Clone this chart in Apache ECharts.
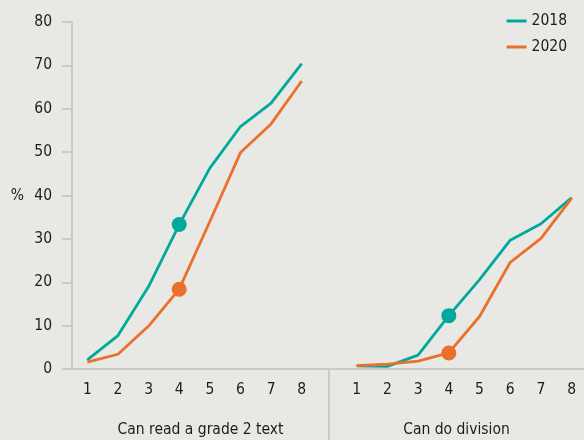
<!DOCTYPE html>
<html>
<head>
<meta charset="utf-8">
<script src="https://cdn.jsdelivr.net/npm/echarts@6/dist/echarts.min.js"></script>
<style>
html,body{margin:0;padding:0;background:#e8e9e5;}
#c{width:584px;height:440px;}
</style>
</head>
<body>
<div id="c"></div>
<script>
const grades = [1, 2, 3, 4, 5, 6, 7, 8];
const yTicks = [0, 10, 20, 30, 40, 50, 60, 70, 80];
const panelTitles = ['Can read a grade 2 text', 'Can do division'];
const seriesNames = ['2018', '2020'];
const reading2018 = [2.1, 7.7, 19.0, 33.3, 46.3, 55.9, 61.3, 70.4];
const reading2020 = [1.6, 3.4, 9.9, 18.4, 34.0, 49.9, 56.5, 66.4];
const division2018 = [0.7, 0.6, 3.2, 12.3, 20.6, 29.7, 33.5, 39.5];
const division2020 = [0.8, 1.1, 1.8, 3.7, 12.1, 24.6, 30.1, 39.4];
const highlightGrade = 4;

const FONT = '"DejaVu Sans Condensed", "Liberation Sans", sans-serif';
const FS = 15.5;
const TXT = '#1c1c1c';
const AX = '#c9cacb';
const COLORS = ['#00a99c', '#ea702b'];

function toData(vals) {
  return grades.map((g, i) => g === highlightGrade
    ? { value: [g, vals[i]], symbol: 'circle', symbolSize: 15 }
    : { value: [g, vals[i]], symbol: 'none' });
}

function mkSeries(name, vals, idx, color) {
  return {
    name: name, type: 'line', xAxisIndex: idx, yAxisIndex: idx,
    data: toData(vals), showSymbol: true, symbol: 'none',
    lineStyle: { color: color, width: 2.8 }, itemStyle: { color: color },
    animation: false, emphasis: { disabled: true }
  };
}

const xCommon = (i, min, max) => ({
  type: 'value', gridIndex: i, min: min, max: max,
  name: panelTitles[i], nameLocation: 'middle', nameGap: 53,
  nameTextStyle: { fontFamily: FONT, fontSize: FS, color: TXT },
  axisLine: { show: true, lineStyle: { color: AX, width: 2 } },
  axisTick: { show: i === 1, customValues: [min], length: 71, lineStyle: { color: AX, width: 2 } },
  axisLabel: { customValues: grades, margin: 13, fontFamily: FONT, fontSize: FS, color: TXT },
  splitLine: { show: false }
});

const option = {
  backgroundColor: '#e8e9e5',
  animation: false,
  legend: {
    data: seriesNames, orient: 'vertical', right: 12, top: 7,
    icon: 'rect', itemWidth: 20, itemHeight: 3, itemGap: 8,
    textStyle: { fontFamily: FONT, fontSize: FS, color: TXT, lineHeight: 18 }
  },
  grid: [
    { left: 72, width: 257, top: 22, bottom: 71, outerBoundsMode: 'none', containLabel: false },
    { left: 329, right: 0, top: 22, bottom: 71, outerBoundsMode: 'none', containLabel: false }
  ],
  xAxis: [xCommon(0, 0.5, 8.89), xCommon(1, 0.1, 8.4)],
  yAxis: [
    {
      type: 'value', gridIndex: 0, min: yTicks[0], max: yTicks[yTicks.length - 1], interval: 10,
      name: '%', nameLocation: 'middle', nameRotate: 0, nameGap: 48,
      nameTextStyle: { fontFamily: FONT, fontSize: FS, color: TXT },
      axisLine: { show: true, lineStyle: { color: AX, width: 2 } },
      axisTick: { show: true, length: 10, lineStyle: { color: AX, width: 2 } },
      axisLabel: { margin: 20, fontFamily: FONT, fontSize: FS, color: TXT },
      splitLine: { show: false }
    },
    {
      type: 'value', gridIndex: 1, min: yTicks[0], max: yTicks[yTicks.length - 1], interval: 10,
      axisLine: { show: false }, axisTick: { show: false }, axisLabel: { show: false },
      splitLine: { show: false }
    }
  ],
  series: [
    mkSeries(seriesNames[0], reading2018, 0, COLORS[0]),
    mkSeries(seriesNames[1], reading2020, 0, COLORS[1]),
    mkSeries(seriesNames[0], division2018, 1, COLORS[0]),
    mkSeries(seriesNames[1], division2020, 1, COLORS[1])
  ]
};

const chart = echarts.init(document.getElementById('c'), null, { renderer: 'canvas' });
chart.setOption(option);
</script>
</body>
</html>
